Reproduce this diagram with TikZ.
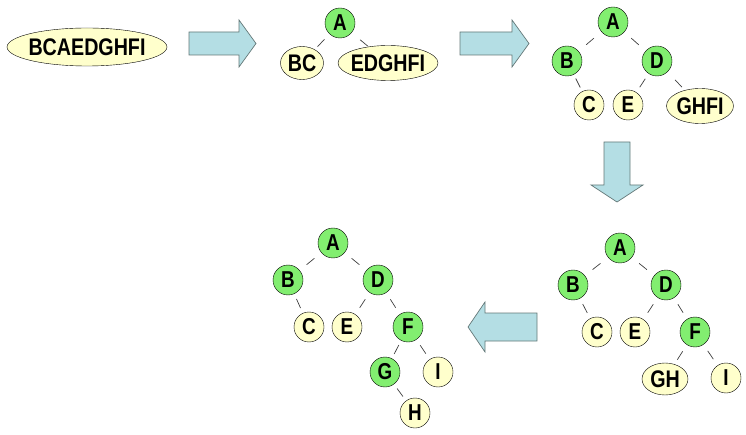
\documentclass[tikz,border=0pt]{standalone}
\usepackage{fontspec}
\setmainfont{Liberation Sans}[FakeStretch=0.82]
\usepackage{tikz}
\usetikzlibrary{calc,shapes.geometric}

\definecolor{nodegreen}{RGB}{130,238,112}
\definecolor{leafyellow}{RGB}{255,255,204}
\definecolor{arrowfill}{RGB}{180,222,228}
\definecolor{arrowline}{RGB}{100,120,120}

\begin{document}
\begin{tikzpicture}[x=1pt, y=-1pt,
    inner/.style={draw, circle, fill=nodegreen, minimum size=30pt, inner sep=0pt, thin, font=\bfseries\fontsize{23pt}{26pt}\selectfont},
    leaf/.style={draw, circle, fill=leafyellow, minimum size=30pt, inner sep=0pt, thin, font=\bfseries\fontsize{23pt}{26pt}\selectfont},
    seq/.style={draw, ellipse, fill=leafyellow, inner xsep=-3pt, inner ysep=0pt, thin, font=\bfseries\fontsize{24pt}{28pt}\selectfont},
    link/.style={draw=black!75, line width=0.7pt},
    bigarrow/.style={draw=arrowline, fill=arrowfill, line width=0.7pt, line join=miter}
  ]
    \useasboundingbox (0,0) rectangle (746,435);
    % stage 1
    \node[seq, minimum width=160pt, minimum height=38pt] (s1) at (87,47) {BCAEDGHFI};
    \draw[bigarrow] (189,32) -- (239,32) -- (239,20) -- (256,43.5) -- (239,67) -- (239,55) -- (189,55) -- cycle;
    % stage 2
    \node[inner] (a2) at (340,23) {A};
    \node[seq, minimum width=43pt, minimum height=33pt] (bc2) at (302,63) {BC};
    \node[seq, minimum width=100pt, minimum height=35pt] (r2) at (388,63) {EDGHFI};
    \draw[bigarrow] (460,32) -- (512,32) -- (512,20) -- (529,43.5) -- (512,67) -- (512,55) -- (460,55) -- cycle;
    % stage 3
    \node[inner] (a3) at (613,22) {A};
    \node[inner] (b3) at (567,61) {B};
    \node[inner] (d3) at (657,61) {D};
    \node[leaf] (c3) at (589,105) {C};
    \node[leaf] (e3) at (628,105) {E};
    \node[seq, minimum width=67pt, minimum height=35pt] (r3) at (700,106) {GHFI};
    \draw[bigarrow] (604,142) -- (630,142) -- (630,185) -- (643,185) -- (617,202) -- (591,185) -- (604,185) -- cycle;
    % stage 4
    \node[inner] (a4) at (620,248) {A};
    \node[inner] (b4) at (573,285) {B};
    \node[inner] (d4) at (666,285) {D};
    \node[leaf] (c4) at (597,332) {C};
    \node[leaf] (e4) at (635,332) {E};
    \node[inner] (f4) at (695,332) {F};
    \node[seq, minimum width=46pt, minimum height=32pt] (gh4) at (665,379) {GH};
    \node[leaf] (i4) at (726,378) {I};
    \draw[bigarrow] (537,313) -- (485,313) -- (485,302) -- (468,327) -- (485,352) -- (485,341) -- (537,341) -- cycle;
    % stage 5
    \node[inner] (a5) at (333,243) {A};
    \node[inner] (b5) at (288,280) {B};
    \node[inner] (d5) at (378,280) {D};
    \node[leaf] (c5) at (309,327) {C};
    \node[leaf] (e5) at (347,327) {E};
    \node[inner] (f5) at (408,327) {F};
    \node[inner] (g5) at (385,372) {G};
    \node[leaf] (i5) at (438,372) {I};
    \node[leaf] (h5) at (415,413) {H};
    % tree edges
    \foreach \u/\v in {a2/bc2, a2/r2,
                       a3/b3, a3/d3, b3/c3, d3/e3, d3/r3,
                       a4/b4, a4/d4, b4/c4, d4/e4, d4/f4, f4/gh4, f4/i4,
                       a5/b5, a5/d5, b5/c5, d5/e5, d5/f5, f5/g5, f5/i5, g5/h5}
      \draw[link] ($(\u)!0.5!(\v)!5pt!(\u)$) -- ($(\u)!0.5!(\v)!5pt!(\v)$);
\end{tikzpicture}
\end{document}
